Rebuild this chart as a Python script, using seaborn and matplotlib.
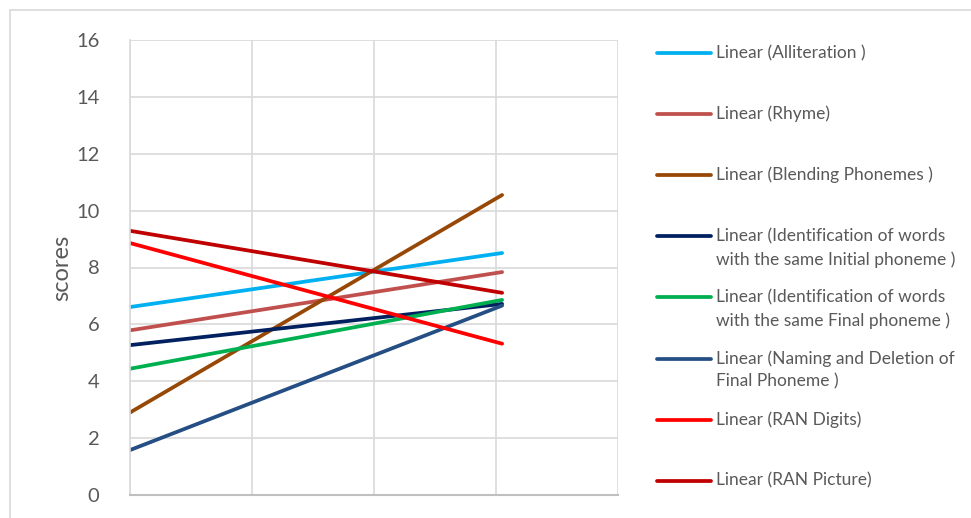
import matplotlib
matplotlib.use("Agg")
import matplotlib.pyplot as plt
import matplotlib.patches as mpatches
from matplotlib.lines import Line2D
import seaborn as sns
import pandas as pd

# ---- data ----
series = [
    "Linear (Alliteration )",
    "Linear (Rhyme)",
    "Linear (Blending Phonemes )",
    "Linear (Identification of words\nwith the same Initial phoneme )",
    "Linear (Identification of words\nwith the same Final phoneme )",
    "Linear (Naming and Deletion of\nFinal Phoneme )",
    "Linear (RAN Digits)",
    "Linear (RAN Picture)",
]
start_scores = [6.61, 5.79, 2.90, 5.27, 4.44, 1.58, 8.86, 9.29]
end_scores = [8.51, 7.84, 10.55, 6.72, 6.86, 6.66, 5.32, 7.11]
x_points = [0.0, 3.05]
colors = ["#00B0F0", "#C0504D", "#974706", "#002060", "#00B050", "#254E84", "#FF0000", "#C00000"]
y_ticks = [0, 2, 4, 6, 8, 10, 12, 14, 16]
x_grid = [0, 1, 2, 3, 4]

rows = []
for name, s, e in zip(series, start_scores, end_scores):
    rows.append({"x": x_points[0], "score": s, "series": name})
    rows.append({"x": x_points[1], "score": e, "series": name})
df = pd.DataFrame(rows)
palette = dict(zip(series, colors))

sns.set_theme(style="white")
plt.rcParams["font.family"] = ["Lato", "DejaVu Sans"]

W, H = 971, 518
fig = plt.figure(figsize=(W / 100, H / 100), dpi=100)
ax = fig.add_axes([130 / W, 1 - 495 / H, (618 - 130) / W, (495 - 40) / H])

# outer chart border
fig.patches.append(mpatches.Rectangle((10 / W, -0.05), 1.2, 1 - 10 / H + 0.05,
                                      transform=fig.transFigure, fill=False,
                                      edgecolor="#D9D9D9", linewidth=1.2))

sns.lineplot(data=df, x="x", y="score", hue="series", palette=palette,
             hue_order=series, linewidth=2.7, legend=False, ax=ax,
             solid_capstyle="round")

ax.set_xlim(0, 4)
ax.set_ylim(0, 16)
ax.set_yticks(y_ticks)
ax.set_xticks(x_grid)
ax.set_xticklabels([])
ax.grid(True, color="#D9D9D9", linewidth=1.2)
ax.set_axisbelow(True)
for side in ["top", "right"]:
    ax.spines[side].set_visible(False)
ax.spines["left"].set_color("#D9D9D9")
ax.spines["left"].set_linewidth(1.2)
ax.spines["bottom"].set_color("#BFBFBF")
ax.spines["bottom"].set_linewidth(1.5)
ax.tick_params(axis="y", length=0, labelsize=14.5, labelcolor="#595959", pad=22)
ax.tick_params(axis="x", length=0)
ax.set_xlabel("")
ax.set_ylabel("scores", fontsize=17, color="#595959", labelpad=3)

# legend (manual, Excel-like slots)
slot0, slot = 53, 61.1
for i, (name, c) in enumerate(zip(series, colors)):
    yc = slot0 + i * slot
    fig.lines.append(Line2D([657 / W, 711 / W], [1 - yc / H, 1 - yc / H],
                            transform=fig.transFigure, color=c, linewidth=2.7,
                            solid_capstyle="round"))
    for j, line in enumerate(name.split("\n")):
        fig.text(716 / W, 1 - (yc + j * 23) / H, line, ha="left", va="center",
                 fontsize=12.5, color="#595959")

fig.savefig("out.png", dpi=100)
